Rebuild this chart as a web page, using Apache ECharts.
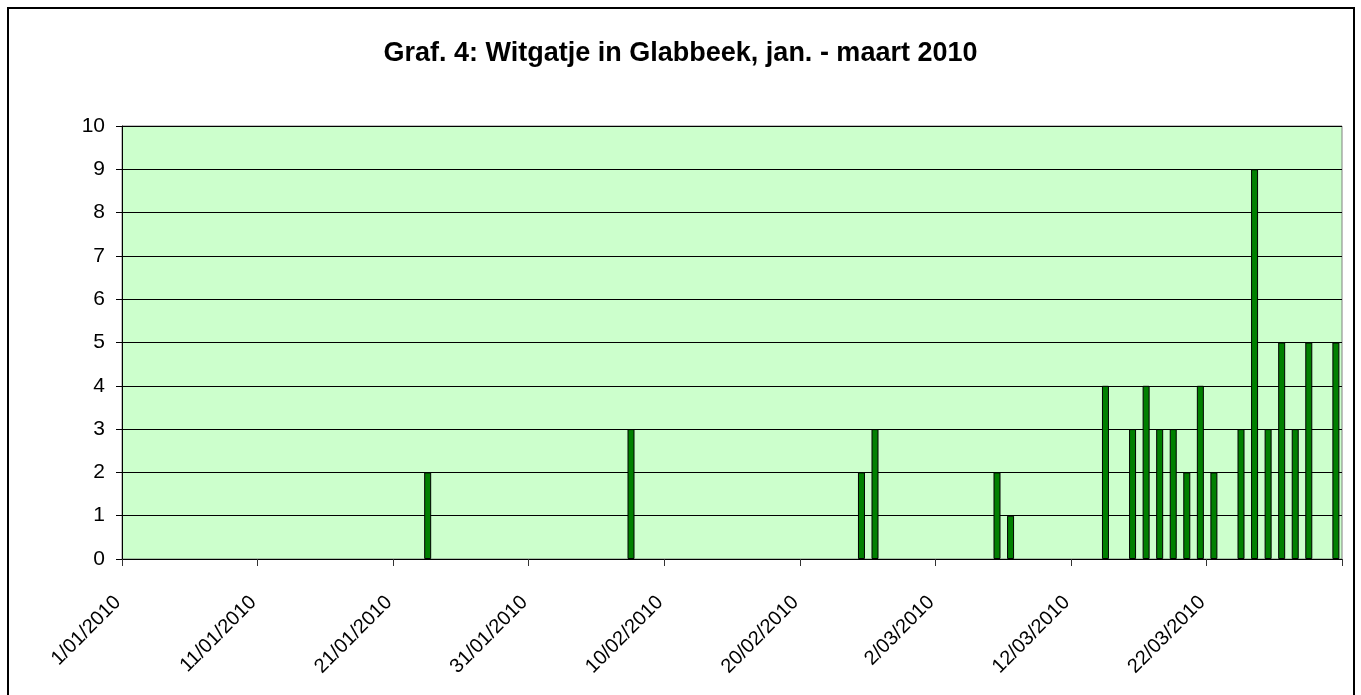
<!DOCTYPE html>
<html lang="nl">
<head>
	<meta charset="UTF-8">
	<title>Witgatje in Glabbeek</title>
	<script src="https://cdn.jsdelivr.net/npm/echarts@6/dist/echarts.min.js"></script>
	<style>
		html, body { margin: 0; padding: 0; background: #fff; }
		#bar_chart { width: 1361px; height: 695px; }
	</style>
</head>
<body>
	<div id="bar_chart"></div>

	<script type="text/javascript">
		// waarnemingen (datum, aantal)
		var obsDates = ['23/01/2010', '7/02/2010', '24/02/2010', '25/02/2010', '6/03/2010', '7/03/2010',
			'14/03/2010', '16/03/2010', '17/03/2010', '18/03/2010', '19/03/2010', '20/03/2010',
			'21/03/2010', '22/03/2010', '24/03/2010', '25/03/2010', '26/03/2010', '27/03/2010',
			'28/03/2010', '29/03/2010', '31/03/2010'];
		var obsCounts = [2, 3, 2, 3, 2, 1, 4, 3, 4, 3, 3, 2, 4, 2, 3, 9, 3, 5, 3, 5, 5];
		var tickLabels = ['1/01/2010', '11/01/2010', '21/01/2010', '31/01/2010', '10/02/2010',
			'20/02/2010', '2/03/2010', '12/03/2010', '22/03/2010'];

		function dayIndex(s) {
			var p = s.split('/');
			return (Date.UTC(+p[2], +p[1] - 1, +p[0]) - Date.UTC(2010, 0, 1)) / 86400000;
		}

		var barData = [];
		for (var i = 0; i < obsDates.length; i++) {
			barData.push([dayIndex(obsDates[i]) + 0.55, obsCounts[i]]);
		}

		var bar_chart = echarts.init(document.getElementById('bar_chart'));
		var bar_option = {
			animation: false,
			title: {
				text: 'Graf. 4: Witgatje in Glabbeek, jan. - maart 2010',
				left: 'center',
				top: 35,
				textStyle: {
					fontFamily: 'Liberation Sans, Arial, sans-serif',
					fontSize: 27,
					fontWeight: 'bold',
					color: '#000'
				}
			},
			graphic: [{
				type: 'rect',
				shape: { x: 8, y: 8, width: 1346, height: 700 },
				style: { fill: 'none', stroke: '#000', lineWidth: 2 }
			}],
			grid: {
				left: 122,
				right: 19,
				top: 126,
				bottom: 136,
				show: true,
				backgroundColor: '#CCFFCC',
				borderColor: '#808080',
				borderWidth: 1
			},
			xAxis: {
				type: 'value',
				min: 0,
				max: 90,
				interval: 10,
				axisLine: { show: true, onZero: false, lineStyle: { color: '#000', width: 1 } },
				axisTick: { show: true, length: 7, lineStyle: { color: '#333' } },
				splitLine: { show: false },
				axisLabel: {
					rotate: 45,
					margin: 36,
					padding: [0, 6, 0, 0],
					fontFamily: 'Liberation Sans, Arial, sans-serif',
					fontSize: 20,
					color: '#000',
					formatter: function (v) {
						var k = Math.round(v / 10);
						return tickLabels[k] || '';
					}
				}
			},
			yAxis: {
				type: 'value',
				min: 0,
				max: 10,
				interval: 1,
				axisLine: { show: true, lineStyle: { color: '#000', width: 1 } },
				axisTick: { show: true, length: 6, lineStyle: { color: '#000' } },
				splitLine: { show: true, lineStyle: { color: '#000', width: 1 } },
				axisLabel: {
					margin: 17,
					fontFamily: 'Liberation Sans, Arial, sans-serif',
					fontSize: 21,
					color: '#000'
				}
			},
			series: [
				{
					name: 'Witgatje',
					type: 'bar',
					barWidth: 7,
					data: barData,
					itemStyle: {
						color: '#008000',
						borderColor: '#000',
						borderWidth: 1
					}
				}
			]
		};

		bar_chart.setOption(bar_option);
	</script>
</body>
</html>
